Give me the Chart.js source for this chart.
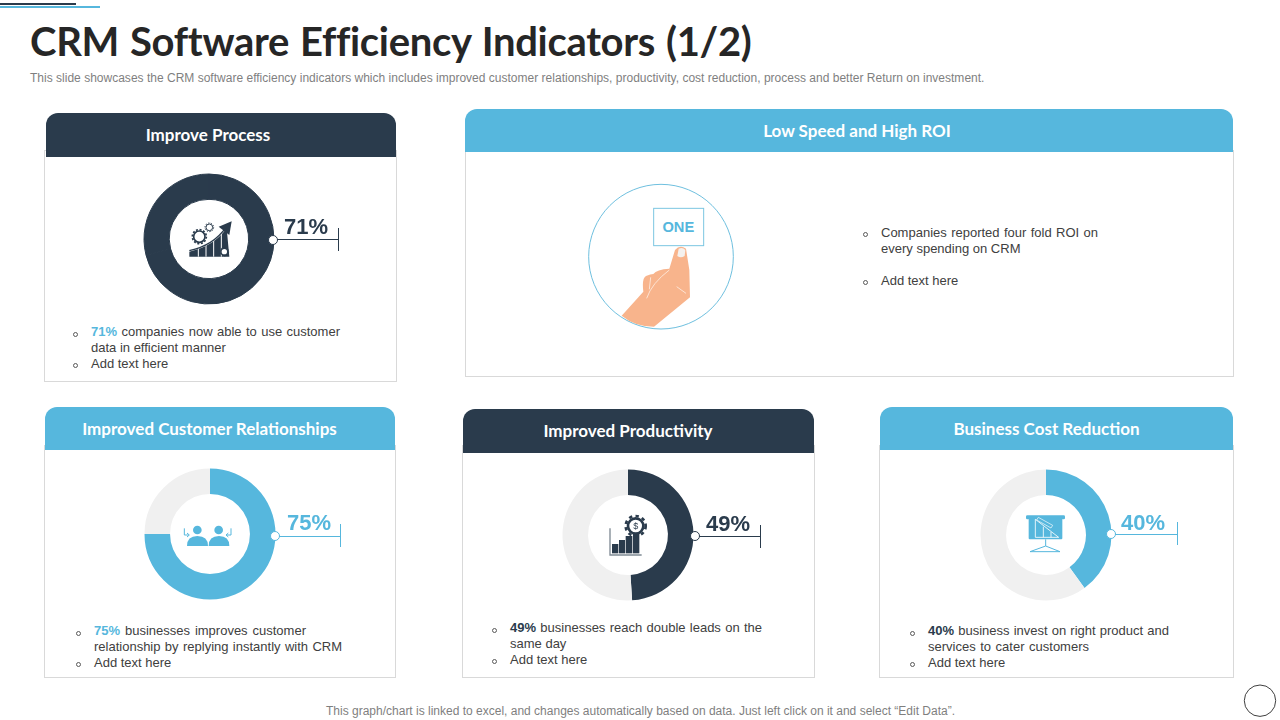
<!DOCTYPE html>
<html>
<head>
<meta charset="utf-8">
<title>CRM Software Efficiency Indicators</title>
<script src="https://cdn.jsdelivr.net/npm/chart.js@4"></script>
<style>
  html, body { margin: 0; padding: 0; background: #fff; }
  #slide { position: relative; width: 1280px; height: 720px; overflow: hidden; font-family: "Liberation Sans", Arial, sans-serif; color: #404040; font-variant-ligatures: none; }
  #slide > * { position: absolute; }
  .rule { height: 2px; left: 0; }
  h1 { margin: 0; left: 30px; top: 17px; font: 700 40px/48px Lato, sans-serif; color: #262626; word-spacing: 1.5px; letter-spacing: -0.3px; white-space: nowrap; }
  .sub { left: 30px; top: 71px; font-size: 12px; line-height: 15px; color: #7f7f7f; white-space: nowrap; letter-spacing: 0.01px; }
  .foot { left: 326px; top: 704px; font-size: 12px; line-height: 15px; color: #7f7f7f; white-space: nowrap; }
  .body { border: 1px solid #d9d9d9; box-sizing: border-box; background: #fff; }
  .head { color: #fff; font: 700 17px/43px Lato, sans-serif; text-align: center; border-radius: 12px 12px 0 0; white-space: nowrap; }
  .navy { background: #2a3b4c; }
  .sky { background: #56b7dd; }
  .pct { font-weight: 700; font-size: 22px; line-height: 28px; width: 70px; text-align: center; margin-top: 1px; }
  .lead { height: 1px; }
  .tick { width: 1px; }
  .dot { width: 8px; height: 8px; border-radius: 50%; background: #fff; border: 1px solid; }
  .t { font-size: 13px; line-height: 16px; white-space: nowrap; margin-top: 1px; }
  .j { text-align-last: justify; white-space: normal; }
  .b { width: 3px; height: 3px; border: 1px solid #595959; border-radius: 50%; margin-top: 1px; }
  .hl { font-weight: 700; color: #56b7dd; }
  .hd { font-weight: 700; color: #2a3b4c; }
  canvas { display: block; }
</style>
</head>
<body>
<div id="slide">
  <div class="rule" style="top:3px;width:76px;background:#2a3b4c"></div>
  <div class="rule" style="top:5.5px;width:100px;background:#56b7dd"></div>
  <h1>CRM Software Efficiency Indicators (1/2)</h1>
  <div class="sub">This slide showcases the CRM software efficiency indicators which includes improved customer relationships, productivity, cost reduction, process and better Return on investment.</div>

  <!-- cards -->
  <div class="body" style="left:44px;top:150px;width:353px;height:232px"></div>
  <div class="head navy" id="h0" style="left:46px;top:113px;width:350px;height:44px;text-indent:-26px"></div>
  <div class="body" style="left:465px;top:150px;width:769px;height:227px"></div>
  <div class="head sky" style="left:465px;top:109px;width:768px;height:43px;text-indent:16px">Low Speed and High ROI</div>
  <div class="body" style="left:44px;top:445px;width:352px;height:233px"></div>
  <div class="head sky" id="h1" style="left:45px;top:407px;width:350px;height:43px;text-indent:-21px"></div>
  <div class="body" style="left:462px;top:445px;width:353px;height:233px"></div>
  <div class="head navy" id="h2" style="left:463px;top:409px;width:351px;height:44px;text-indent:-21px"></div>
  <div class="body" style="left:879px;top:445px;width:355px;height:233px"></div>
  <div class="head sky" id="h3" style="left:880px;top:407px;width:353px;height:43px;text-indent:-20px"></div>

  <!-- doughnuts -->
  <canvas id="c0" width="140" height="140" style="left:139px;top:169px;width:140px;height:140px"></canvas>
  <canvas id="c1" width="140" height="140" style="left:140px;top:464px;width:140px;height:140px"></canvas>
  <canvas id="c2" width="140" height="140" style="left:558px;top:465px;width:140px;height:140px"></canvas>
  <canvas id="c3" width="140" height="140" style="left:976px;top:465px;width:140px;height:140px"></canvas>

  <!-- leaders -->
  <div class="lead" style="left:273px;top:239px;width:66px;background:#2a3b4c"></div>
  <div class="tick" style="left:338px;top:228px;height:23px;background:#2a3b4c"></div>
  <div class="dot" style="left:268px;top:235px;border-color:#2a3b4c"></div>
  <div class="pct" id="p0" style="left:271px;top:212px;color:#2a3b4c"></div>

  <div class="lead" style="left:275px;top:536px;width:66px;background:#56b7dd"></div>
  <div class="tick" style="left:340px;top:524px;height:23px;background:#56b7dd"></div>
  <div class="dot" style="left:270px;top:531px;border-color:#56b7dd"></div>
  <div class="pct" id="p1" style="left:274px;top:508px;color:#56b7dd"></div>

  <div class="lead" style="left:695px;top:536px;width:66px;background:#2a3b4c"></div>
  <div class="tick" style="left:760px;top:525px;height:23px;background:#2a3b4c"></div>
  <div class="dot" style="left:690px;top:531px;border-color:#2a3b4c"></div>
  <div class="pct" id="p2" style="left:693px;top:509px;color:#2a3b4c"></div>

  <div class="lead" style="left:1111px;top:534px;width:66px;background:#56b7dd"></div>
  <div class="tick" style="left:1177px;top:522px;height:23px;background:#56b7dd"></div>
  <div class="dot" style="left:1106px;top:529px;border-color:#56b7dd"></div>
  <div class="pct" id="p3" style="left:1108px;top:508px;color:#56b7dd"></div>

  <!-- card 1 text -->
  <div class="b" style="left:73px;top:331px"></div>
  <div class="t j" style="left:91px;top:323px;width:249px"><span class="hl">71%</span> companies now able to use customer</div>
  <div class="t" style="left:91px;top:339px">data in efficient manner</div>
  <div class="b" style="left:73px;top:362px"></div>
  <div class="t" style="left:91px;top:355px">Add text here</div>

  <!-- card 2 text -->
  <div class="b" style="left:863px;top:231px"></div>
  <div class="t j" style="left:881px;top:224px;width:217px">Companies reported four fold ROI on</div>
  <div class="t" style="left:881px;top:240px">every spending on CRM</div>
  <div class="b" style="left:863px;top:279px"></div>
  <div class="t" style="left:881px;top:272px">Add text here</div>

  <!-- card 3 text -->
  <div class="b" style="left:76px;top:630px"></div>
  <div class="t j" style="left:94px;top:622px;width:212px"><span class="hl">75%</span> businesses improves customer</div>
  <div class="t j" style="left:94px;top:638px;width:248px">relationship by replying instantly with CRM</div>
  <div class="b" style="left:76px;top:661px"></div>
  <div class="t" style="left:94px;top:654px">Add text here</div>

  <!-- card 4 text -->
  <div class="b" style="left:492px;top:627px"></div>
  <div class="t j" style="left:510px;top:619px;width:252px"><span class="hd">49%</span> businesses reach double leads on the</div>
  <div class="t" style="left:510px;top:635px">same day</div>
  <div class="b" style="left:492px;top:658px"></div>
  <div class="t" style="left:510px;top:651px">Add text here</div>

  <!-- card 5 text -->
  <div class="b" style="left:910px;top:630px"></div>
  <div class="t j" style="left:928px;top:622px;width:241px"><span class="hd">40%</span> business invest on right product and</div>
  <div class="t j" style="left:928px;top:638px;width:161px">services to cater customers</div>
  <div class="b" style="left:910px;top:661px"></div>
  <div class="t" style="left:928px;top:654px">Add text here</div>

  <div class="foot">This graph/chart is linked to excel, and changes automatically based on data. Just left click on it and select “Edit Data”.</div>

  <!-- hand picture -->
  <svg style="left:560px;top:170px" width="200" height="170" viewBox="0 0 600 510">
    <circle cx="303" cy="260" r="217" fill="#fff" stroke="#6fc0df" stroke-width="3"/>
    <path d="M185 437 L250 365 Q245 325 258 318 Q272 312 280 312 Q290 298 328 296 L345 240 Q360 222 378 236 L388 300 L390 382 L282 470 Q225 470 185 437 Z" fill="#f8b48c"/>
    <path d="M352 258 L356 236 Q368 230 376 240 L374 258 Q362 266 352 258 Z" fill="#f4f1ee"/>
    <path d="M260 385 Q275 340 328 300 M272 322 L268 358 M350 350 L378 370" fill="none" stroke="#fde3d3" stroke-width="3"/>
    <rect x="281" y="115" width="150" height="112" fill="#fff" stroke="#7cc6e2" stroke-width="3"/>
    <text x="355" y="186" text-anchor="middle" font-family="Liberation Sans" font-weight="700" font-size="44" fill="#56b7dd">ONE</text>
  </svg>

  <!-- icon: improve process -->
  <svg style="left:30px;top:100px" width="380" height="290" viewBox="0 0 1140 870">
    <path d="M478 455 Q550 440 590 385 L598 470 L478 470 Z" fill="#2a3b4c"/>
    <path d="M505 445 V470 M528 435 V470 M551 420 V470 M574 400 V470" stroke="#fff" stroke-width="3"/>
    <path d="M478 452 Q550 436 588 382" fill="none" stroke="#2a3b4c" stroke-width="4"/>
    <path d="M566 380 L605 364 L598 405 Z" fill="#2a3b4c"/>
    <circle cx="508" cy="410" r="17" fill="#fff" stroke="#2a3b4c" stroke-width="5"/>
    <circle cx="508" cy="410" r="21" fill="none" stroke="#2a3b4c" stroke-width="5" stroke-dasharray="6 5"/>
    <circle cx="538" cy="382" r="10" fill="#fff" stroke="#2a3b4c" stroke-width="3"/>
    <circle cx="538" cy="382" r="13" fill="none" stroke="#2a3b4c" stroke-width="3" stroke-dasharray="4 4"/>
    <circle cx="583" cy="455" r="10" fill="#fff" stroke="#2a3b4c" stroke-width="4"/>
    <circle cx="583" cy="455" r="13" fill="none" stroke="#2a3b4c" stroke-width="3" stroke-dasharray="4 4"/>
  </svg>

  <!-- icon: customer relationships -->
  <svg style="left:130px;top:460px" width="230" height="150" viewBox="0 0 690 450">
    <circle cx="202" cy="210" r="13" fill="#56b7dd"/>
    <circle cx="266" cy="210" r="13" fill="#56b7dd"/>
    <path d="M171 258 Q171 228 202 228 Q234 228 234 258 Z" fill="#56b7dd"/>
    <path d="M236 258 Q236 228 267 228 Q298 228 298 258 Z" fill="#56b7dd"/>
    <path d="M163 205 V225 H176 M171 219 L178 225 L171 231" fill="none" stroke="#56b7dd" stroke-width="3"/>
    <path d="M303 205 V225 H290 M295 219 L288 225 L295 231" fill="none" stroke="#56b7dd" stroke-width="3"/>
  </svg>

  <!-- icon: productivity -->
  <svg style="left:550px;top:460px" width="230" height="150" viewBox="0 0 690 450">
    <path d="M180 205 V285 H275" fill="none" stroke="#7f8a94" stroke-width="4"/>
    <rect x="186" y="252" width="19" height="28" fill="#2a3b4c"/>
    <rect x="207" y="240" width="18" height="40" fill="#2a3b4c"/>
    <rect x="227" y="228" width="20" height="52" fill="#2a3b4c"/>
    <rect x="249" y="216" width="19" height="64" fill="#2a3b4c"/>
    <circle cx="257" cy="198" r="23" fill="#fff" stroke="#2a3b4c" stroke-width="8"/>
    <circle cx="257" cy="198" r="30" fill="none" stroke="#2a3b4c" stroke-width="8" stroke-dasharray="10 10"/>
    <text x="257" y="208" text-anchor="middle" font-family="Liberation Sans" font-size="27" fill="#2a3b4c">$</text>
  </svg>

  <!-- icon: cost reduction -->
  <svg style="left:970px;top:460px" width="230" height="150" viewBox="0 0 690 450">
    <rect x="168" y="166" width="117" height="12" rx="4" fill="#56b7dd"/>
    <rect x="176" y="176" width="101" height="62" rx="3" fill="#56b7dd"/>
    <path d="M196 178 V232 M220 200 V232 M243 216 V232 M196 232 H266 L196 178" fill="none" stroke="#fff" stroke-width="2.5"/>
    <path d="M205 172 L248 196 L243 204 L200 180 Z" fill="#56b7dd" stroke="#fff" stroke-width="2"/>
    <path d="M227 238 V258 M180 275 L227 258 L270 275 M180 275 H270" fill="none" stroke="#56b7dd" stroke-width="3"/>
  </svg>

  <svg style="left:1240px;top:680px" width="40" height="40">
    <circle cx="20" cy="20.7" r="15.7" fill="#fff" stroke="#404040" stroke-width="1"/>
  </svg>
</div>

<script>
const categories = ["Improve Process", "Improved Customer Relationships", "Improved Productivity", "Business Cost Reduction"];
const percentages = [71, 75, 49, 40];
const remainders = [29, 25, 51, 60];
const fillColors = ["#2a3b4c", "#56b7dd", "#2a3b4c", "#56b7dd"];
// the first ring is drawn solid in the slide, so its remainder has the same colour
const restColors = ["#2a3b4c", "#f0f0f0", "#f0f0f0", "#f0f0f0"];

for (let i = 0; i < categories.length; i++) {
  document.getElementById("h" + i).textContent = categories[i];
  document.getElementById("p" + i).textContent = percentages[i] + "%";

  new Chart(document.getElementById("c" + i), {
    type: "doughnut",
    data: {
      labels: [categories[i], "Rest"],
      datasets: [
        {
          data: [percentages[i], remainders[i]],
          backgroundColor: [fillColors[i], restColors[i]],
          // a thin border hides the seam between the two same-coloured slices
          borderColor: fillColors[i],
          borderWidth: i === 0 ? 1 : 0,
        },
      ],
    },
    options: {
      responsive: false,
      animation: false,
      radius: i === 0 ? 65 : 65.5,
      cutout: "61%",
      layout: { padding: 0 },
      plugins: {
        legend: { display: false },
        tooltip: { enabled: false },
      },
    },
  });
}
</script>
</body>
</html>
